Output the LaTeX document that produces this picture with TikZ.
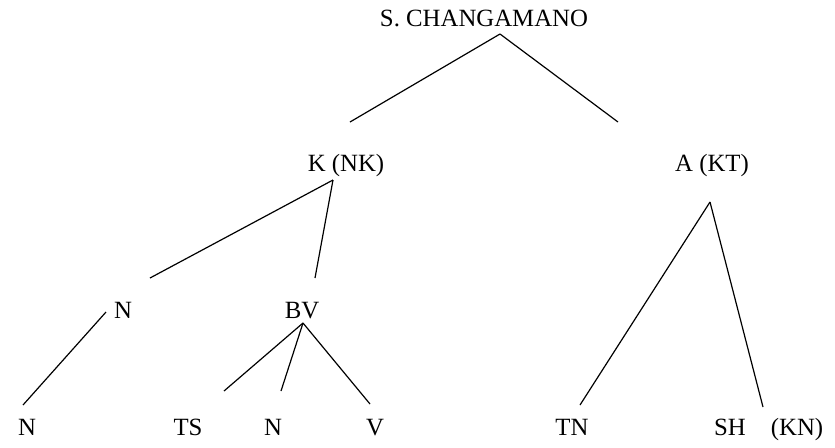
\documentclass[tikz,border=0pt]{standalone}
\usepackage{fontspec}
\setmainfont{Liberation Serif}
\usepackage{tikz}
\tikzset{lbl/.style={anchor=base,inner sep=0pt,font=\fontsize{12.4}{14}\selectfont}}

\begin{document}
\begin{tikzpicture}[x=0.5pt,y=-0.5pt,line width=0.6pt]
    \useasboundingbox (0,0) rectangle (835,447);

    \path
    (484,26) node[lbl] (S) {S. CHANGAMANO}
    (346,171) node[lbl] (K) {K (NK)}
    (712,171) node[lbl] (A) {A (KT)}
    (123,318) node[lbl] (N1) {N}
    (302,318) node[lbl] (BV) {BV}
    (27,435) node[lbl] (N2) {N}
    (188,435) node[lbl] (TS) {TS}
    (273,435) node[lbl] (N3) {N}
    (375,435) node[lbl] (V) {V}
    (572,435) node[lbl] (TN) {TN}
    (730,435) node[lbl] (SH) {SH}
    (797,435) node[lbl] (KN) {(KN)}
    ;

    % branch ends
    \coordinate (Sbot) at (500,34);
    \coordinate (Ktop) at (350,122);
    \coordinate (Atop) at (618,122);
    \coordinate (Kbot) at (333,180);
    \coordinate (N1top) at (150,278);
    \coordinate (BVtop) at (315,278);
    \coordinate (N1bot) at (106,312);
    \coordinate (N2top) at (23,405);
    \coordinate (BVbot) at (303,323);
    \coordinate (TStop) at (224,391);
    \coordinate (N3top) at (281,391);
    \coordinate (Vtop) at (370,404);
    \coordinate (Abot) at (710,202);
    \coordinate (TNtop) at (580,405);
    \coordinate (SHtop) at (763,407);

    \draw (Sbot) -- (Ktop);
    \draw (Sbot) -- (Atop);
    \draw (Kbot) -- (N1top);
    \draw (Kbot) -- (BVtop);
    \draw (N1bot) -- (N2top);
    \draw (BVbot) -- (TStop);
    \draw (BVbot) -- (N3top);
    \draw (BVbot) -- (Vtop);
    \draw (Abot) -- (TNtop);
    \draw (Abot) -- (SHtop);
\end{tikzpicture}
\end{document}
